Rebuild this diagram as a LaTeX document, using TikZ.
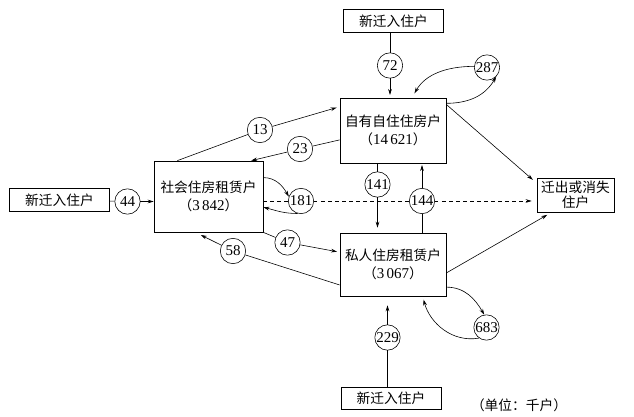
\documentclass[tikz,border=0pt]{standalone}
\usepackage{fontspec}
\setmainfont{Liberation Serif}
\newfontfamily\cjk{Noto Sans CJK SC}
\usepackage{tikz}
\usetikzlibrary{arrows.meta,positioning}
\newcommand\households[1]{{\cjk （}{\fontsize{12.8}{16}\selectfont #1}{\cjk ）}}

\begin{document}
\begin{tikzpicture}[
  x=0.3mm, y=0.3mm,
  font=\fontsize{11.7}{16}\selectfont,
  newbox/.style={draw, line width=0.6pt, minimum width=30mm, minimum height=6.8mm, inner sep=1pt, font=\fontsize{11.7}{14}\selectfont\cjk},
  statebox/.style={draw, line width=0.6pt, align=center, minimum width=31.8mm, minimum height=19.5mm, inner sep=1pt},
  flow/.style={draw, circle, line width=0.5pt, minimum size=7.6mm, inner sep=0pt, font=\fontsize{12.8}{14}\selectfont},
  link/.style={line width=0.5pt},
  arr/.style={-{Stealth[length=1.8mm,width=1.1mm]}, line width=0.5pt}
]
\useasboundingbox (0,0) rectangle (634,417);

\node[newbox] (newtop) at (393.5,396) {新迁入住户};
\node[newbox] (newleft) at (59.5,217) {新迁入住户};
\node[newbox] (newbot) at (391,18.5) {新迁入住户};
\node[statebox] (own) at (393,286.5) {{\cjk 自有自住住房户}\\\households{14\,621}};
\node[statebox, minimum width=32.7mm, minimum height=21.3mm] (social) at (208.5,220.5) {{\cjk 社会住房租赁户}\\\households{3\,842}};
\node[statebox, minimum height=18.9mm] (private) at (393,152.5) {{\cjk 私人住房租赁户}\\\households{3\,067}};
\node[statebox, minimum width=23.1mm, minimum height=10.2mm, font=\fontsize{11.7}{12.5}\selectfont\cjk] (exit) at (575.5,222) {迁出或消失\\住户};

\node[flow] (n72) at (390,351.5) {72};
\node[flow] (n287) at (487,349.5) {287};
\node[flow] (n13) at (260,287) {13};
\node[flow] (n23) at (300,268) {23};
\node[flow] (n44) at (127.5,215.5) {44};
\node[flow] (n181) at (301,216) {181};
\node[flow] (n141) at (377.5,232.5) {141};
\node[flow] (n144) at (422,216) {144};
\node[flow] (n47) at (287.5,174.5) {47};
\node[flow] (n58) at (233,166) {58};
\node[flow] (n683) at (486.5,89.5) {683};
\node[flow] (n229) at (387.5,79.5) {229};
\node[font=\fontsize{11.7}{14}\selectfont\cjk] (unit) at (519,12) {（单位：千户）};

\draw[link] (newtop.south -| n72) -- (n72);
\draw[arr, shorten >=0.8mm] (n72) -- (own.north -| n72);
\draw[arr] (own.27) to[out=0, in=-120] (n287.-45);
\draw[arr, shorten >=1.5mm] (n287.175) to[out=180, in=60] (own.60);

\draw[link] (social.131) -- (n13);
\draw[arr, shorten >=0.9mm] (n13) -- (own.156);
\draw[link] (own.190) -- (n23);
\draw[arr] (n23) -- (social.40);

\draw[link] (newleft) -- (n44);
\draw[arr] (n44) -- (social.west |- n44);

\draw[arr] (social.19) to[out=0, in=120] (n181.160);
\draw[arr] (n181.255) to[out=180, in=-15] (social.-11);
\draw[link, dashed] (social.east |- n181) -- (n181);
\draw[link, dashed] (n181) -- (n144);
\draw[arr, dashed, shorten >=1.5mm] (n144) -- (exit.west |- n144);

\draw[link] (own.south -| n141) -- (n141);
\draw[arr, shorten >=1.5mm] (n141) -- (private.north -| n141);
\draw[link] (private.north -| n144) -- (n144);
\draw[arr, shorten >=0.5mm] (n144) -- (own.south -| n144);

\draw[link] (social.south east) -- (n47);
\draw[arr, shorten >=0.8mm] (n47) -- (private.167);
\draw[link] (private.201) -- (n58);
\draw[arr, shorten >=1.8mm] (n58) -- (social.250);

\draw[arr, shorten >=1.5mm] (own.26) -- (exit.163);
\draw[arr, shorten >=1.5mm] (private.-9) -- (exit.216);

\draw[arr] (private.-23) to[out=0, in=120] (n683.100);
\draw[arr, shorten >=1mm] (n683.235) to[out=190, in=-75] (private.-47);
\draw[link] (newbot.north -| n229) -- (n229);
\draw[arr, shorten >=2.7mm] (n229) -- (private.south -| n229);
\end{tikzpicture}
\end{document}
